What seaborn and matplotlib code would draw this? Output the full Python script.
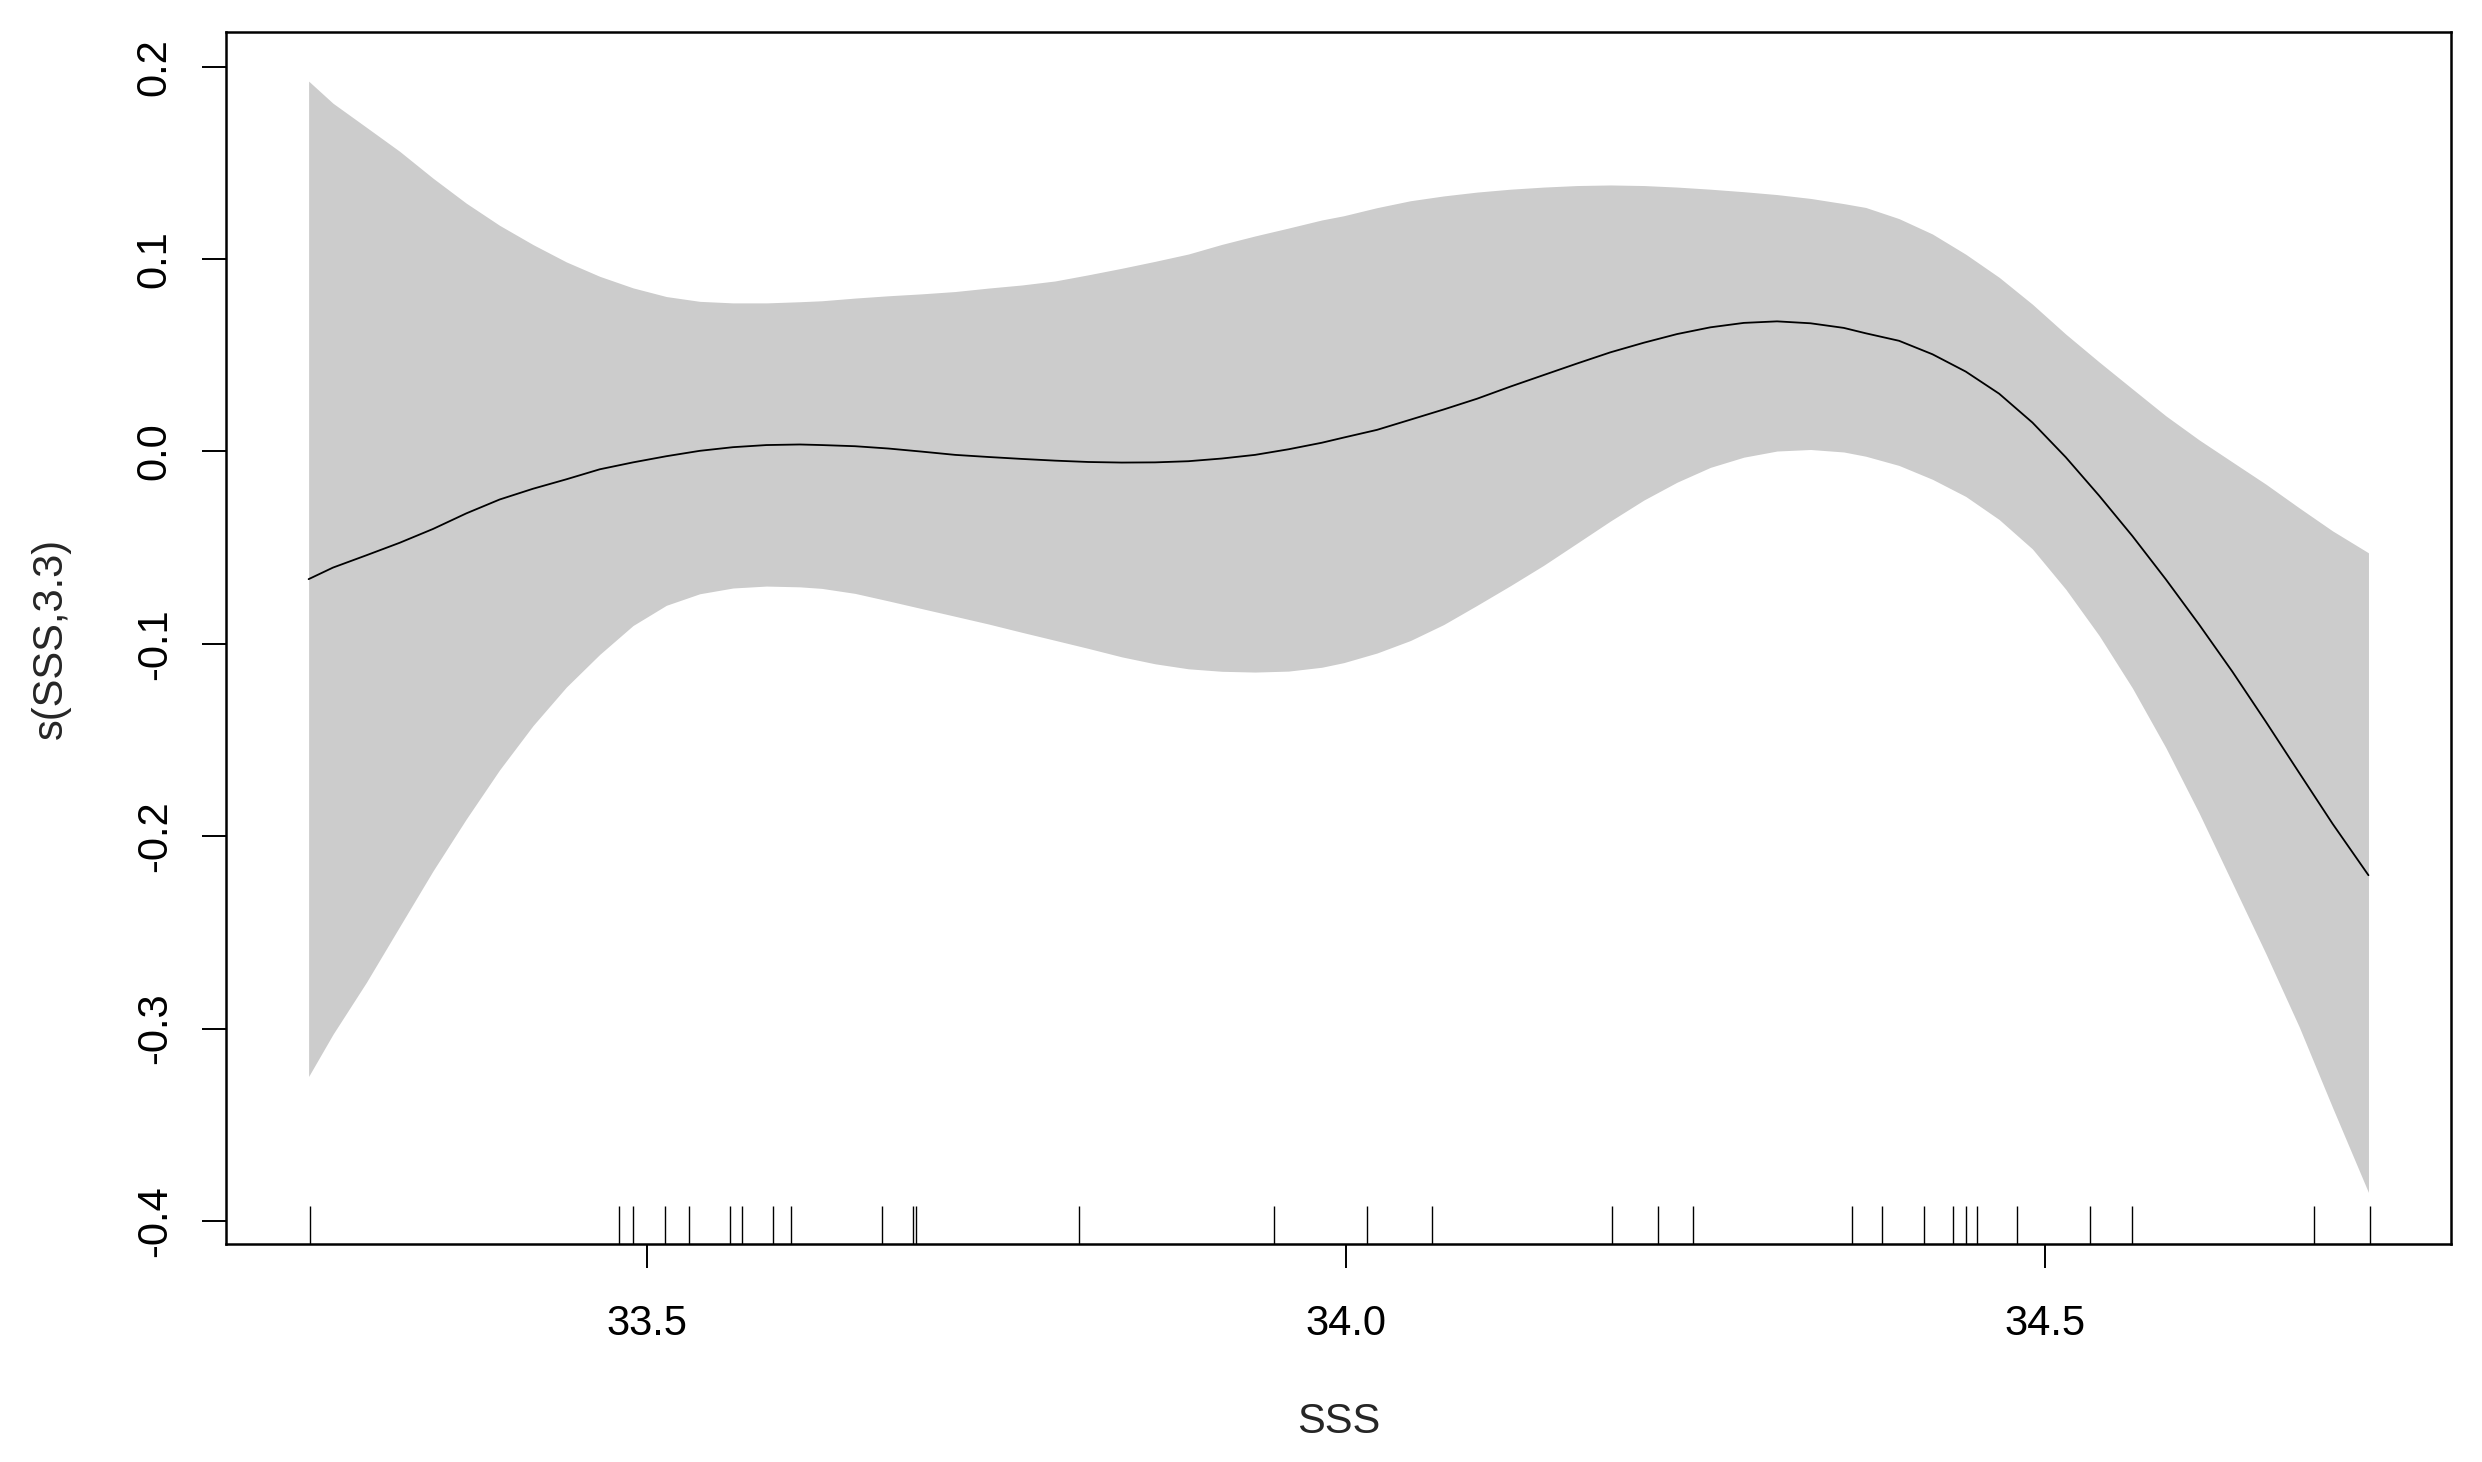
import numpy as np
import pandas as pd
import matplotlib
matplotlib.use("Agg")
import matplotlib.pyplot as plt
import seaborn as sns

sns.set_theme(style="white")
plt.rcParams["font.family"] = ["Liberation Sans", "DejaVu Sans"]

# GAM smooth term s(SSS,3.3): fit and 2*SE band
sss = [33.2580, 33.2754, 33.2993, 33.3231, 33.3470, 33.3708, 33.3946, 33.4185,
       33.4423, 33.4662, 33.4900, 33.5138, 33.5377, 33.5615, 33.5854, 33.6092,
       33.6249, 33.6487, 33.6726, 33.6964, 33.7203, 33.7441, 33.7679, 33.7918,
       33.8156, 33.8395, 33.8633, 33.8871, 33.9110, 33.9348, 33.9587, 33.9825,
       33.9982, 34.0220, 34.0459, 34.0697, 34.0936, 34.1174, 34.1412, 34.1651,
       34.1889, 34.2128, 34.2366, 34.2604, 34.2843, 34.3081, 34.3320, 34.3558,
       34.3715, 34.3953, 34.4192, 34.4430, 34.4669, 34.4907, 34.5145, 34.5384,
       34.5622, 34.5861, 34.6099, 34.6337, 34.6576, 34.6814, 34.7053, 34.7310]
fit = [-0.0664, -0.0604, -0.0540, -0.0475, -0.0403, -0.0322, -0.0250, -0.0194,
       -0.0145, -0.0093, -0.0057, -0.0025, 0.0003, 0.0022, 0.0033, 0.0036,
       0.0033, 0.0027, 0.0015, -0.0001, -0.0018, -0.0029, -0.0039, -0.0048,
       -0.0055, -0.0058, -0.0057, -0.0051, -0.0037, -0.0018, 0.0011, 0.0045,
       0.0072, 0.0112, 0.0165, 0.0218, 0.0274, 0.0337, 0.0397, 0.0457,
       0.0515, 0.0565, 0.0610, 0.0645, 0.0668, 0.0676, 0.0666, 0.0642,
       0.0614, 0.0575, 0.0505, 0.0415, 0.0300, 0.0150, -0.0030, -0.0230,
       -0.0440, -0.0665, -0.0900, -0.1145, -0.1405, -0.1670, -0.1935, -0.2203]
upper = [0.1925, 0.1810, 0.1685, 0.1560, 0.1420, 0.1290, 0.1175, 0.1075,
         0.0985, 0.0910, 0.0850, 0.0805, 0.0780, 0.0772, 0.0772, 0.0778,
         0.0783, 0.0797, 0.0809, 0.0819, 0.0831, 0.0849, 0.0865, 0.0886,
         0.0918, 0.0952, 0.0988, 0.1026, 0.1076, 0.1120, 0.1161, 0.1203,
         0.1225, 0.1267, 0.1303, 0.1328, 0.1348, 0.1363, 0.1374, 0.1382,
         0.1385, 0.1382, 0.1374, 0.1363, 0.1350, 0.1335, 0.1315, 0.1288,
         0.1268, 0.1210, 0.1130, 0.1025, 0.0905, 0.0765, 0.0610, 0.0465,
         0.0325, 0.0185, 0.0060, -0.0055, -0.0170, -0.0293, -0.0413, -0.0527]
lower = [-0.3249, -0.3030, -0.2760, -0.2470, -0.2180, -0.1910, -0.1655, -0.1425,
         -0.1225, -0.1055, -0.0905, -0.0800, -0.0740, -0.0710, -0.0700, -0.0704,
         -0.0712, -0.0738, -0.0777, -0.0817, -0.0857, -0.0897, -0.0940, -0.0982,
         -0.1024, -0.1068, -0.1104, -0.1130, -0.1143, -0.1147, -0.1142, -0.1122,
         -0.1098, -0.1048, -0.0983, -0.0900, -0.0800, -0.0698, -0.0592, -0.0477,
         -0.0362, -0.0253, -0.0160, -0.0083, -0.0030, 0.0002, 0.0010, -0.0003,
         -0.0025, -0.0073, -0.0145, -0.0234, -0.0354, -0.0507, -0.0716, -0.0957,
         -0.1230, -0.1540, -0.1880, -0.2244, -0.2610, -0.2990, -0.3410, -0.3852]

# observed SSS values (rug)
rug_sss = [33.259, 33.480, 33.490, 33.513, 33.530, 33.559, 33.568, 33.590,
           33.603, 33.668, 33.690, 33.692, 33.809, 33.948, 34.015, 34.061,
           34.190, 34.223, 34.248, 34.362, 34.383, 34.413, 34.434, 34.443,
           34.451, 34.480, 34.532, 34.562, 34.692, 34.732]

df = pd.DataFrame({"SSS": sss, "fit": fit, "upper": upper, "lower": lower})

fig = plt.figure(figsize=(24.82, 14.62), dpi=100)
ax = fig.add_axes([0.0911, 0.1491, 0.8964, 0.8290])

ax.fill_between(df["SSS"], df["lower"], df["upper"], color="#CCCCCC", lw=0)
sns.lineplot(data=df, x="SSS", y="fit", color="black", lw=1.3, ax=ax)
sns.rugplot(x=rug_sss, height=0.031, color="black", lw=1.8, alpha=1,
            expand_margins=False, ax=ax)

ax.set_xlim(33.199, 34.790)
ax.set_ylim(-0.412, 0.218)
ax.set_xticks([33.5, 34.0, 34.5])
ax.set_xticklabels(["33.5", "34.0", "34.5"])
ax.set_yticks([-0.4, -0.3, -0.2, -0.1, 0.0, 0.1, 0.2])
ax.set_yticklabels(["-0.4", "-0.3", "-0.2", "-0.1", "0.0", "0.1", "0.2"],
                   rotation=90, va="center")

for s in ax.spines.values():
    s.set_color("black")
    s.set_linewidth(1.8)
ax.tick_params(axis="both", direction="out", length=17, width=1.4,
               color="black", labelsize=30, labelcolor="black")
ax.tick_params(axis="x", pad=26, bottom=True)
ax.tick_params(axis="y", pad=20, left=True)

ax.set_xlabel("SSS", fontsize=30, labelpad=42)
ax.set_ylabel("s(SSS,3.3)", fontsize=30, labelpad=46)
ax.grid(False)

fig.savefig("out.png", dpi=100)
